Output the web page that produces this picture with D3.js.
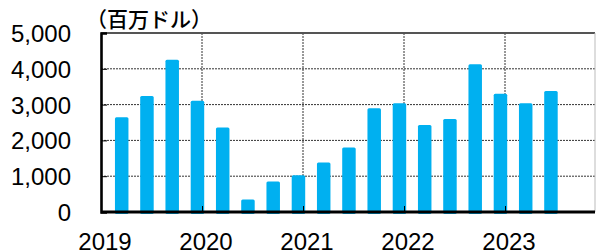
<!DOCTYPE html>
<html>
<head>
<meta charset="utf-8">
<script src="https://cdn.jsdelivr.net/npm/d3@7"></script>
<style>
  html, body { margin: 0; padding: 0; background: #fff; }
  svg { display: block; }
</style>
</head>
<body>
<svg id="chart" width="597" height="250"></svg>
<script>
// ---- data ----
const quarters = ["2019Q1","2019Q2","2019Q3","2019Q4","2020Q1","2020Q2","2020Q3","2020Q4",
                  "2021Q1","2021Q2","2021Q3","2021Q4","2022Q1","2022Q2","2022Q3","2022Q4",
                  "2023Q1","2023Q2"];
const values = [2650, 3240, 4250, 3110, 2360, 350, 850, 1030, 1380, 1800,
                2900, 3040, 2430, 2600, 4130, 3300, 3040, 3380];
const yTicks = [0, 1000, 2000, 3000, 4000, 5000];
const xYears = [2019, 2020, 2021, 2022, 2023];
const unitLabel = "（百万ドル）";

// ---- layout ----
const pL = 101, pR = 595, pT = 33, pB = 212;
const svg = d3.select("#chart");

const x = d3.scaleLinear().domain([2019, 2024]).range([pL, pL + 505]);
const y = d3.scaleLinear().domain([0, 5000]).range([pB, pT]);

const qPos = q => {
  const yr = +q.slice(0, 4), qi = +q.slice(5) - 1;
  return yr + (qi + 0.82) / 4;
};

// horizontal grid
svg.append("g").selectAll("line").data(yTicks.filter(d => d > 0 && d < 5000)).join("line")
  .attr("x1", pL).attr("x2", pR)
  .attr("y1", d => y(d)).attr("y2", d => y(d))
  .attr("stroke", "#333").attr("stroke-width", 1).attr("stroke-dasharray", "2,1");

// vertical grid
svg.append("g").selectAll("line").data(xYears.filter(d => d > 2019)).join("line")
  .attr("x1", d => x(d)).attr("x2", d => x(d))
  .attr("y1", pT).attr("y2", pB)
  .attr("stroke", "#333").attr("stroke-width", 1).attr("stroke-dasharray", "2,1");

// bars
const bw = 13.5;
svg.append("g").selectAll("rect").data(quarters).join("rect")
  .attr("x", (d) => x(qPos(d)) - bw / 2)
  .attr("width", bw)
  .attr("y", (d, i) => y(values[i]))
  .attr("height", (d, i) => y(0) - y(values[i]) + 2)
  .attr("rx", 1.5)
  .attr("fill", "#00B0F0");

// frame
svg.append("line").attr("x1", pL).attr("x2", pR).attr("y1", pT).attr("y2", pT)
  .attr("stroke", "#555").attr("stroke-width", 1.8);
svg.append("line").attr("x1", pR).attr("x2", pR).attr("y1", pT).attr("y2", pB)
  .attr("stroke", "#bbb").attr("stroke-width", 1);

// y axis
const yAxis = d3.axisLeft(y).tickValues(yTicks).tickSize(-6).tickPadding(30)
  .tickFormat(d3.format(","));
const gy = svg.append("g").attr("transform", `translate(${pL},0)`).call(yAxis);
gy.select(".domain").attr("stroke", "#000").attr("stroke-width", 2.6);
gy.selectAll(".tick line").attr("stroke", "#000").attr("stroke-width", 1);
gy.selectAll(".tick text")
  .attr("font-family", "'Liberation Sans', Arial, sans-serif")
  .attr("font-size", 24).attr("fill", "#000").attr("dy", "0.35em");

// x axis
const xAxis = d3.axisBottom(x).tickValues(xYears).tickSize(-6).tickPadding(0)
  .tickFormat(d3.format("d"));
const gx = svg.append("g").attr("transform", `translate(0,${pB})`).call(xAxis);
gx.select(".domain").attr("d", `M${pL},0H${pR}`).attr("stroke", "#000").attr("stroke-width", 2.8);
gx.selectAll(".tick line").attr("stroke", "#000").attr("stroke-width", 1);
gx.selectAll(".tick text")
  .attr("font-family", "'Liberation Sans', Arial, sans-serif")
  .attr("font-size", 24).attr("fill", "#000")
  .attr("dx", 3.5).attr("y", 38).attr("dy", 0);

// unit label
svg.append("text").attr("x", 86).attr("y", 27)
  .attr("font-family", "'Noto Sans CJK JP', sans-serif")
  .attr("font-size", 21).attr("font-weight", 500).attr("fill", "#000")
  .text(unitLabel);
</script>
</body>
</html>
